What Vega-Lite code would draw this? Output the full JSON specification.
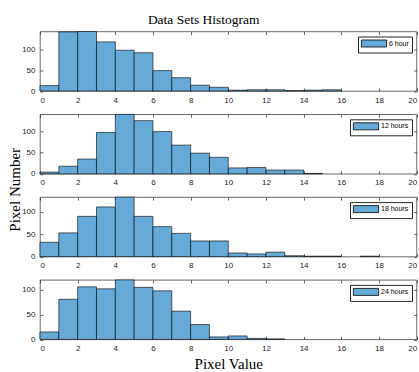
{
  "$schema": "https://vega.github.io/schema/vega-lite/v6.json",
  "background": "white",
  "padding": {"left": 7, "top": 12.5, "right": 0, "bottom": 0},
  "title": {"text": "Data Sets Histogram", "font": "Liberation Serif", "fontSize": 13.5, "fontWeight": "normal", "color": "#000000", "anchor": "middle", "offset": 4.5, "dx": -9},
  "datasets": {
    "bins": [
      {"panel": 1, "series": "6 hour", "lo": 0, "hi": 1, "count": 13},
      {"panel": 1, "series": "6 hour", "lo": 1, "hi": 2, "count": 142},
      {"panel": 1, "series": "6 hour", "lo": 2, "hi": 3, "count": 143},
      {"panel": 1, "series": "6 hour", "lo": 3, "hi": 4, "count": 118},
      {"panel": 1, "series": "6 hour", "lo": 4, "hi": 5, "count": 98},
      {"panel": 1, "series": "6 hour", "lo": 5, "hi": 6, "count": 92},
      {"panel": 1, "series": "6 hour", "lo": 6, "hi": 7, "count": 49},
      {"panel": 1, "series": "6 hour", "lo": 7, "hi": 8, "count": 32},
      {"panel": 1, "series": "6 hour", "lo": 8, "hi": 9, "count": 14},
      {"panel": 1, "series": "6 hour", "lo": 9, "hi": 10, "count": 9},
      {"panel": 1, "series": "6 hour", "lo": 10, "hi": 11, "count": 2},
      {"panel": 1, "series": "6 hour", "lo": 11, "hi": 12, "count": 3},
      {"panel": 1, "series": "6 hour", "lo": 12, "hi": 13, "count": 3},
      {"panel": 1, "series": "6 hour", "lo": 13, "hi": 14, "count": 1},
      {"panel": 1, "series": "6 hour", "lo": 14, "hi": 15, "count": 2},
      {"panel": 1, "series": "6 hour", "lo": 15, "hi": 16, "count": 3},
      {"panel": 2, "series": "12 hours", "lo": 0, "hi": 1, "count": 4},
      {"panel": 2, "series": "12 hours", "lo": 1, "hi": 2, "count": 18},
      {"panel": 2, "series": "12 hours", "lo": 2, "hi": 3, "count": 35},
      {"panel": 2, "series": "12 hours", "lo": 3, "hi": 4, "count": 98},
      {"panel": 2, "series": "12 hours", "lo": 4, "hi": 5, "count": 141},
      {"panel": 2, "series": "12 hours", "lo": 5, "hi": 6, "count": 126},
      {"panel": 2, "series": "12 hours", "lo": 6, "hi": 7, "count": 100},
      {"panel": 2, "series": "12 hours", "lo": 7, "hi": 8, "count": 68},
      {"panel": 2, "series": "12 hours", "lo": 8, "hi": 9, "count": 49},
      {"panel": 2, "series": "12 hours", "lo": 9, "hi": 10, "count": 39},
      {"panel": 2, "series": "12 hours", "lo": 10, "hi": 11, "count": 14},
      {"panel": 2, "series": "12 hours", "lo": 11, "hi": 12, "count": 15},
      {"panel": 2, "series": "12 hours", "lo": 12, "hi": 13, "count": 9},
      {"panel": 2, "series": "12 hours", "lo": 13, "hi": 14, "count": 9},
      {"panel": 2, "series": "12 hours", "lo": 14, "hi": 15, "count": 1},
      {"panel": 3, "series": "18 hours", "lo": 0, "hi": 1, "count": 32},
      {"panel": 3, "series": "18 hours", "lo": 1, "hi": 2, "count": 53},
      {"panel": 3, "series": "18 hours", "lo": 2, "hi": 3, "count": 90},
      {"panel": 3, "series": "18 hours", "lo": 3, "hi": 4, "count": 111},
      {"panel": 3, "series": "18 hours", "lo": 4, "hi": 5, "count": 133},
      {"panel": 3, "series": "18 hours", "lo": 5, "hi": 6, "count": 90},
      {"panel": 3, "series": "18 hours", "lo": 6, "hi": 7, "count": 67},
      {"panel": 3, "series": "18 hours", "lo": 7, "hi": 8, "count": 52},
      {"panel": 3, "series": "18 hours", "lo": 8, "hi": 9, "count": 35},
      {"panel": 3, "series": "18 hours", "lo": 9, "hi": 10, "count": 35},
      {"panel": 3, "series": "18 hours", "lo": 10, "hi": 11, "count": 8},
      {"panel": 3, "series": "18 hours", "lo": 11, "hi": 12, "count": 6},
      {"panel": 3, "series": "18 hours", "lo": 12, "hi": 13, "count": 10},
      {"panel": 3, "series": "18 hours", "lo": 13, "hi": 14, "count": 2},
      {"panel": 3, "series": "18 hours", "lo": 14, "hi": 15, "count": 1},
      {"panel": 3, "series": "18 hours", "lo": 15, "hi": 16, "count": 1},
      {"panel": 3, "series": "18 hours", "lo": 17, "hi": 18, "count": 1},
      {"panel": 4, "series": "24 hours", "lo": 0, "hi": 1, "count": 15},
      {"panel": 4, "series": "24 hours", "lo": 1, "hi": 2, "count": 81},
      {"panel": 4, "series": "24 hours", "lo": 2, "hi": 3, "count": 106},
      {"panel": 4, "series": "24 hours", "lo": 3, "hi": 4, "count": 102},
      {"panel": 4, "series": "24 hours", "lo": 4, "hi": 5, "count": 120},
      {"panel": 4, "series": "24 hours", "lo": 5, "hi": 6, "count": 105},
      {"panel": 4, "series": "24 hours", "lo": 6, "hi": 7, "count": 98},
      {"panel": 4, "series": "24 hours", "lo": 7, "hi": 8, "count": 57},
      {"panel": 4, "series": "24 hours", "lo": 8, "hi": 9, "count": 30},
      {"panel": 4, "series": "24 hours", "lo": 9, "hi": 10, "count": 5},
      {"panel": 4, "series": "24 hours", "lo": 10, "hi": 11, "count": 7},
      {"panel": 4, "series": "24 hours", "lo": 11, "hi": 12, "count": 2},
      {"panel": 4, "series": "24 hours", "lo": 12, "hi": 13, "count": 1}
    ]
  },
  "spacing": 22.8,
  "bounds": "flush",
  "resolve": {"scale": {"color": "independent"}, "legend": {"color": "independent"}},
  "vconcat": [
    {
      "width": 376.6, "height": 59.5,
      "data": {"name": "bins"},
      "transform": [{"filter": "datum.panel == 1"}],
      "layer": [
        {"mark": {"type": "rect", "stroke": "#000000", "strokeWidth": 0.6, "opacity": 1},
         "encoding": {
           "x": {"field": "lo", "type": "quantitative", "scale": {"domain": [0, 20], "nice": false}, "axis": {"values": [0,2,4,6,8,10,12,14,16,18,20], "title": null}},
           "x2": {"field": "hi"},
           "y": {"field": "count", "type": "quantitative", "scale": {"nice": false, "zero": true}, "axis": {"values": [0, 50, 100], "title": null}},
           "y2": {"datum": 0},
           "color": {"field": "series", "type": "nominal", "scale": {"range": ["#66AAD7"]}}
         }},
        {"mark": {"type": "rect", "opacity": 0},
         "encoding": {
           "x": {"field": "lo", "type": "quantitative", "axis": {"orient": "top", "labels": false, "values": [0,2,4,6,8,10,12,14,16,18,20], "title": null}},
           "x2": {"field": "hi"},
           "y": {"field": "count", "type": "quantitative", "axis": {"orient": "right", "labels": false, "values": [0, 50, 100], "title": null}},
           "y2": {"datum": 0}
         }}
      ],
      "resolve": {"axis": {"x": "independent", "y": "independent"}}
    },
    {
      "width": 376.6, "height": 59.5,
      "data": {"name": "bins"},
      "transform": [{"filter": "datum.panel == 2"}],
      "layer": [
        {"mark": {"type": "rect", "stroke": "#000000", "strokeWidth": 0.6, "opacity": 1},
         "encoding": {
           "x": {"field": "lo", "type": "quantitative", "scale": {"domain": [0, 20], "nice": false}, "axis": {"values": [0,2,4,6,8,10,12,14,16,18,20], "title": null}},
           "x2": {"field": "hi"},
           "y": {"field": "count", "type": "quantitative", "scale": {"nice": false, "zero": true}, "axis": {"values": [0, 50, 100], "title": "Pixel Number", "titleX": -20, "titleY": 75, "titleBaseline": "alphabetic", "titleAlign": "center", "titleAngle": 270}},
           "y2": {"datum": 0},
           "color": {"field": "series", "type": "nominal", "scale": {"range": ["#66AAD7"]}}
         }},
        {"mark": {"type": "rect", "opacity": 0},
         "encoding": {
           "x": {"field": "lo", "type": "quantitative", "axis": {"orient": "top", "labels": false, "values": [0,2,4,6,8,10,12,14,16,18,20], "title": null}},
           "x2": {"field": "hi"},
           "y": {"field": "count", "type": "quantitative", "axis": {"orient": "right", "labels": false, "values": [0, 50, 100], "title": null}},
           "y2": {"datum": 0}
         }}
      ],
      "resolve": {"axis": {"x": "independent", "y": "independent"}}
    },
    {
      "width": 376.6, "height": 59.5,
      "data": {"name": "bins"},
      "transform": [{"filter": "datum.panel == 3"}],
      "layer": [
        {"mark": {"type": "rect", "stroke": "#000000", "strokeWidth": 0.6, "opacity": 1},
         "encoding": {
           "x": {"field": "lo", "type": "quantitative", "scale": {"domain": [0, 20], "nice": false}, "axis": {"values": [0,2,4,6,8,10,12,14,16,18,20], "title": null}},
           "x2": {"field": "hi"},
           "y": {"field": "count", "type": "quantitative", "scale": {"nice": false, "zero": true}, "axis": {"values": [0, 50, 100], "title": null}},
           "y2": {"datum": 0},
           "color": {"field": "series", "type": "nominal", "scale": {"range": ["#66AAD7"]}}
         }},
        {"mark": {"type": "rect", "opacity": 0},
         "encoding": {
           "x": {"field": "lo", "type": "quantitative", "axis": {"orient": "top", "labels": false, "values": [0,2,4,6,8,10,12,14,16,18,20], "title": null}},
           "x2": {"field": "hi"},
           "y": {"field": "count", "type": "quantitative", "axis": {"orient": "right", "labels": false, "values": [0, 50, 100], "title": null}},
           "y2": {"datum": 0}
         }}
      ],
      "resolve": {"axis": {"x": "independent", "y": "independent"}}
    },
    {
      "width": 376.6, "height": 59.5,
      "data": {"name": "bins"},
      "transform": [{"filter": "datum.panel == 4"}],
      "layer": [
        {"mark": {"type": "rect", "stroke": "#000000", "strokeWidth": 0.6, "opacity": 1},
         "encoding": {
           "x": {"field": "lo", "type": "quantitative", "scale": {"domain": [0, 20], "nice": false}, "axis": {"values": [0,2,4,6,8,10,12,14,16,18,20], "title": "Pixel Value", "titleY": 29.5, "titleBaseline": "alphabetic"}},
           "x2": {"field": "hi"},
           "y": {"field": "count", "type": "quantitative", "scale": {"nice": false, "zero": true}, "axis": {"values": [0, 50, 100], "title": null}},
           "y2": {"datum": 0},
           "color": {"field": "series", "type": "nominal", "scale": {"range": ["#66AAD7"]}}
         }},
        {"mark": {"type": "rect", "opacity": 0},
         "encoding": {
           "x": {"field": "lo", "type": "quantitative", "axis": {"orient": "top", "labels": false, "values": [0,2,4,6,8,10,12,14,16,18,20], "title": null}},
           "x2": {"field": "hi"},
           "y": {"field": "count", "type": "quantitative", "axis": {"orient": "right", "labels": false, "values": [0, 50, 100], "title": null}},
           "y2": {"datum": 0}
         }}
      ],
      "resolve": {"axis": {"x": "independent", "y": "independent"}}
    }
  ],
  "config": {
    "view": {"stroke": "#262626", "strokeWidth": 0.7},
    "axis": {
      "domain": false, "grid": false,
      "tickSize": -3, "tickColor": "#262626", "tickWidth": 0.7,
      "labelFont": "Liberation Sans", "labelFontSize": 8, "labelColor": "#262626", "labelPadding": 8,
      "titleFont": "Liberation Serif", "titleFontSize": 15, "titleFontWeight": "normal", "titleColor": "#000000"
    },
    "legend": {
      "orient": "top-right", "offset": 5, "title": null,
      "strokeColor": "#262626", "fillColor": "white", "padding": 3, "cornerRadius": 0,
      "symbolType": "M-3.6,-1H3.6V1H-3.6Z", "symbolSize": 49, "symbolOffset": 9,
      "symbolStrokeColor": "#000000", "symbolStrokeWidth": 0.8, "symbolOpacity": 1,
      "labelFont": "Liberation Sans", "labelFontSize": 7, "labelColor": "#000000", "labelOffset": 11
    }
  }
}
